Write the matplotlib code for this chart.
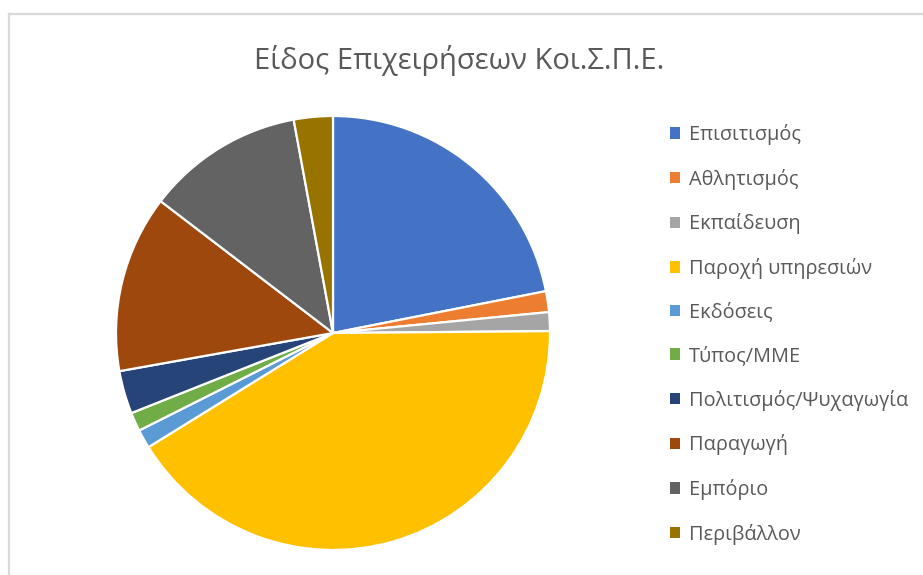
import matplotlib
matplotlib.use('Agg')
import matplotlib.pyplot as plt
from matplotlib.patches import Patch
from matplotlib.lines import Line2D

plt.rcParams['font.family'] = ['Open Sans', 'DejaVu Sans']

# data (percent shares)
categories = ['Επισιτισμός', 'Αθλητισμός', 'Εκπαίδευση', 'Παροχή υπηρεσιών',
              'Εκδόσεις', 'Τύπος/ΜΜΕ', 'Πολιτισμός/Ψυχαγωγία', 'Παραγωγή',
              'Εμπόριο', 'Περιβάλλον']
shares = [21.9, 1.55, 1.4, 41.3, 1.4, 1.4, 3.2, 13.2, 11.7, 2.9]
colors = ['#4472C4', '#ED7D31', '#A5A5A5', '#FFC000', '#5B9BD5',
          '#70AD47', '#264478', '#9E480E', '#636363', '#997300']
title = 'Είδος Επιχειρήσεων Κοι.Σ.Π.Ε.'

W, H = 923, 575
fig = plt.figure(figsize=(W / 100, H / 100), dpi=100)
fig.patch.set_facecolor('white')

# chart frame (only top and left edges visible in the crop)
fig.add_artist(Line2D([9 / W, 9 / W], [0, 1 - 14 / H], transform=fig.transFigure,
                      color='#d9d9d9', lw=1.6))
fig.add_artist(Line2D([9 / W, 1], [1 - 14 / H, 1 - 14 / H], transform=fig.transFigure,
                      color='#d9d9d9', lw=1.6))

# pie
cx, cy, r = 333, 333, 217
ax = fig.add_axes([(cx - r) / W, (H - cy - r) / H, 2 * r / W, 2 * r / H])
ax.pie(shares, colors=colors, startangle=90, counterclock=False,
       wedgeprops=dict(edgecolor='white', linewidth=1.6))
ax.set_xlim(-1, 1)
ax.set_ylim(-1, 1)
ax.set_aspect('auto')
ax.axis('off')

# title
fig.text(459 / W, 1 - 61 / H, title, ha='center', va='center',
         fontsize=21, color='#595959')

# legend
handles = [Patch(facecolor=c, edgecolor='none') for c in colors]
leg = fig.legend(handles, categories, loc='upper left',
                 bbox_to_anchor=(670 / W, 1 - 124 / H), frameon=False,
                 fontsize=14.3, handlelength=0.5, handleheight=0.5,
                 handletextpad=0.45, labelspacing=1.19, borderaxespad=0,
                 borderpad=0)
for t in leg.get_texts():
    t.set_color('#595959')

fig.savefig('out.png', dpi=100, facecolor='white')
plt.close(fig)
